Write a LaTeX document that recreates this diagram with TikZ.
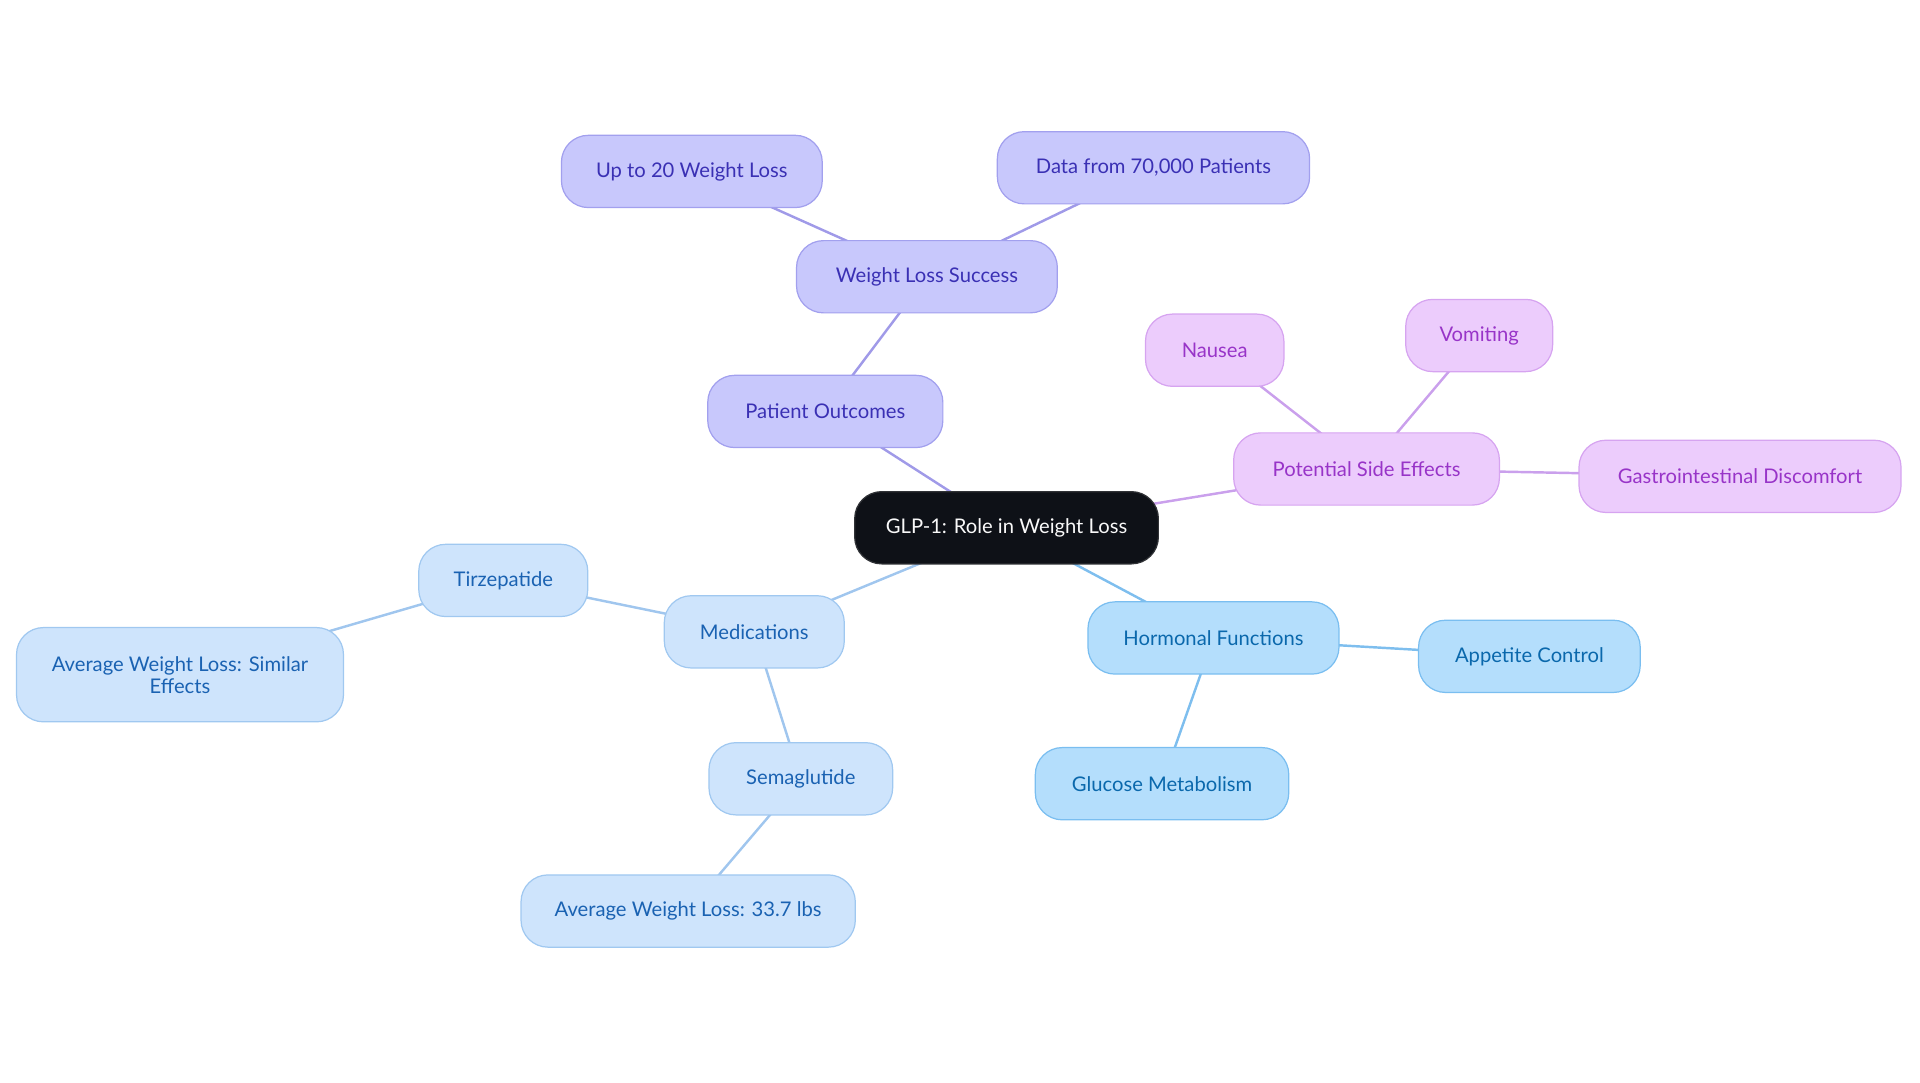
\documentclass[tikz,border=0pt]{standalone}
\usepackage{fontspec}
\setmainfont{Lato}
\usetikzlibrary{backgrounds}
\definecolor{pfill}{RGB}{200,200,252}
\definecolor{pdraw}{RGB}{162,160,238}
\definecolor{ptext}{RGB}{58,48,180}
\definecolor{pline}{RGB}{160,154,232}
\definecolor{kfill}{RGB}{236,204,252}
\definecolor{kdraw}{RGB}{214,164,240}
\definecolor{ktext}{RGB}{152,52,200}
\definecolor{kline}{RGB}{202,160,236}
\definecolor{mfill}{RGB}{206,228,252}
\definecolor{mdraw}{RGB}{160,200,240}
\definecolor{mtext}{RGB}{26,98,178}
\definecolor{mline}{RGB}{160,198,238}
\definecolor{hfill}{RGB}{180,222,252}
\definecolor{hdraw}{RGB}{122,190,240}
\definecolor{htext}{RGB}{10,104,172}
\definecolor{hline}{RGB}{126,190,238}
\definecolor{cfill}{RGB}{14,17,23}
\tikzset{
  box/.style={rounded corners=22pt, minimum height=59pt, inner sep=0pt, line width=1pt,
    font=\fontsize{16.5}{18}\selectfont, align=center},
  pbox/.style={box, fill=pfill, draw=pdraw, text=ptext},
  kbox/.style={box, fill=kfill, draw=kdraw, text=ktext},
  mbox/.style={box, fill=mfill, draw=mdraw, text=mtext},
  hbox/.style={box, fill=hfill, draw=hdraw, text=htext},
  cbox/.style={box, fill=cfill, draw=cfill!70!gray, text=white!95!gray},
  pedge/.style={draw=pline, line width=2pt},
  kedge/.style={draw=kline, line width=2pt},
  medge/.style={draw=mline, line width=2pt},
  hedge/.style={draw=hline, line width=2pt},
}
\begin{document}
\begin{tikzpicture}[x=1pt,y=-1pt]
\useasboundingbox (0,0) rectangle (1568,884.4);
\node[cbox, minimum width=248pt] (c) at (822,431) {GLP-1: Role in Weight Loss};
\node[pbox, minimum width=192pt] (po) at (674,336) {Patient Outcomes};
\node[pbox, minimum width=213pt] (wls) at (757,226) {Weight Loss Success};
\node[pbox, minimum width=213pt] (up) at (565,140) {Up to 20 Weight Loss};
\node[pbox, minimum width=255pt] (data) at (942,137) {Data from 70,000 Patients};
\node[kbox, minimum width=217pt] (pse) at (1116,383) {Potential Side Effects};
\node[kbox, minimum width=113pt] (nau) at (992,286) {Nausea};
\node[kbox, minimum width=120pt] (vom) at (1208,274) {Vomiting};
\node[kbox, minimum width=263pt] (gas) at (1421,389) {Gastrointestinal Discomfort};
\node[hbox, minimum width=205pt] (hf) at (991,521) {Hormonal Functions};
\node[hbox, minimum width=181pt] (ac) at (1249,536) {Appetite Control};
\node[hbox, minimum width=207pt] (gm) at (949,640) {Glucose Metabolism};
\node[mbox, minimum width=147pt] (med) at (616,516) {Medications};
\node[mbox, minimum width=138pt] (tir) at (411,474) {Tirzepatide};
\node[mbox, minimum width=267pt, minimum height=77pt] (avs) at (147,551) {Average Weight Loss: Similar\\Effects};
\node[mbox, minimum width=150pt] (sem) at (654,636) {Semaglutide};
\node[mbox, minimum width=273pt] (av33) at (562,744) {Average Weight Loss: 33.7 lbs};
\begin{scope}[on background layer]
\draw[pedge] (c.center) -- (po.center);
\draw[pedge] (po.center) -- (wls.center);
\draw[pedge] (wls.center) -- (up.center);
\draw[pedge] (wls.center) -- (data.center);
\draw[kedge] (c.center) -- (pse.center);
\draw[kedge] (pse.center) -- (nau.center);
\draw[kedge] (pse.center) -- (vom.center);
\draw[kedge] (pse.center) -- (gas.center);
\draw[hedge] (c.center) -- (hf.center);
\draw[hedge] (hf.center) -- (ac.center);
\draw[hedge] (hf.center) -- (gm.center);
\draw[medge] (c.center) -- (med.center);
\draw[medge] (med.center) -- (tir.center);
\draw[medge] (tir.center) -- (avs.center);
\draw[medge] (med.center) -- (sem.center);
\draw[medge] (sem.center) -- (av33.center);
\end{scope}
\end{tikzpicture}
\end{document}
